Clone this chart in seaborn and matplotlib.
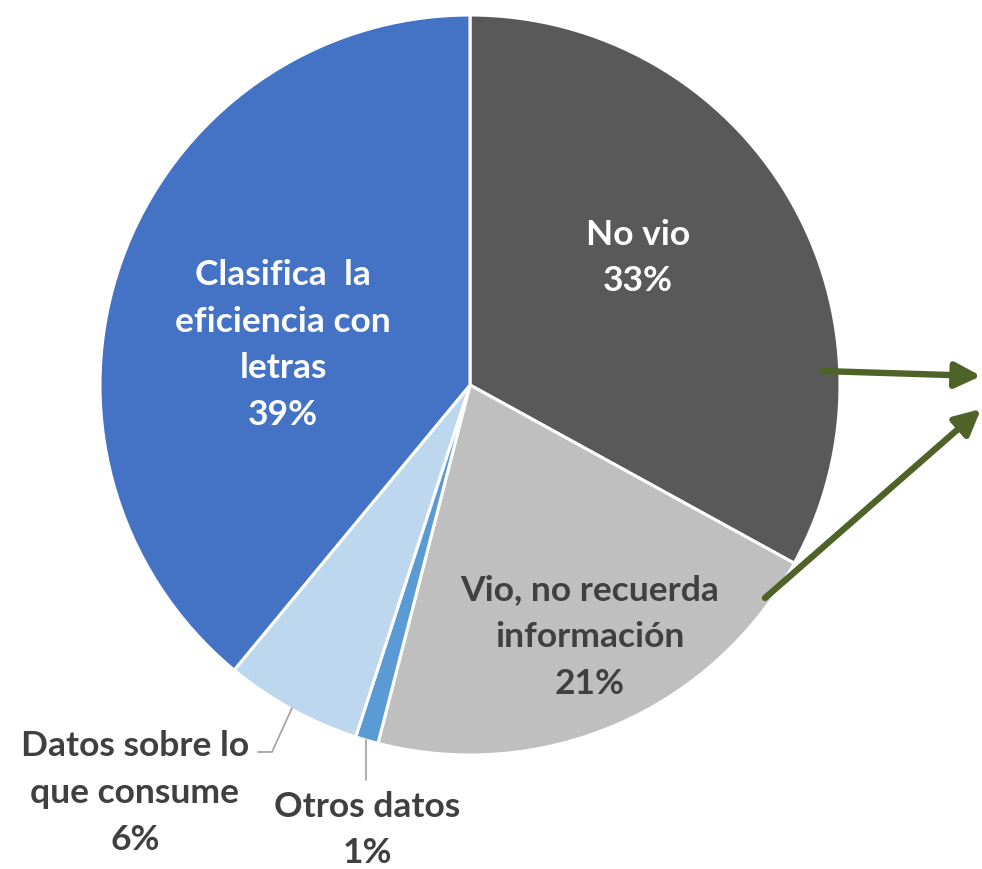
import matplotlib
matplotlib.use("Agg")
import matplotlib.pyplot as plt
import seaborn as sns
import numpy as np

sns.set_theme(style="white")
plt.rcParams['font.family'] = ['Lato', 'DejaVu Sans']

categories = ["No vio", "Vio, no recuerda\ninformación", "Otros datos",
              "Datos sobre lo\nque consume", "Clasifica  la\neficiencia con\nletras"]
values = [33, 21, 1, 6, 39]
colors = ["#595959", "#BFBFBF", "#5B9BD5", "#BDD7EE", "#4472C4"]

W, H = 982, 869
CX, CY, R = 470, 385, 370

fig = plt.figure(figsize=(W / 100, H / 100), dpi=100)
ax = fig.add_axes([0, 0, 1, 1])

ax.pie(values, colors=colors, startangle=90, counterclock=False, radius=1,
       wedgeprops=dict(edgecolor='white', linewidth=2.2))
ax.set_xlim(-CX / R, (W - CX) / R)
ax.set_ylim((CY - H) / R, CY / R)
ax.set_aspect('equal')
ax.axis('off')

def P(x, y):
    return ((x - CX) / R, (CY - y) / R)

fs = 25.5
label_pos = [(638, 258), (590, 637), (367, 830), (135, 793), (283, 345)]
label_col = ["white", "#404040", "#404040", "#404040", "white"]
for cat, v, (px, py), c in zip(categories, values, label_pos, label_col):
    ax.text(*P(px, py), f"{cat}\n{v}%", ha='center', va='center', color=c,
            fontsize=fs, fontweight='bold', linespacing=1.57)

# leader lines
lc = "#A6A6A6"
ax.plot(*zip(P(292, 708), P(272, 752), P(258, 752)), color=lc, lw=1.3)
ax.plot(*zip(P(366, 740), P(366, 780)), color=lc, lw=1.3)

# arrows
ac = "#4F6228"
for (x0, y0), (x1, y1) in [((822, 371), (981, 376)), ((765, 598), (981, 409))]:
    ax.annotate("", xy=P(x1, y1), xytext=P(x0, y0), annotation_clip=False,
                arrowprops=dict(arrowstyle="-|>,head_length=1.1,head_width=0.55",
                                color=ac, lw=4.6, shrinkA=0, shrinkB=0,
                                mutation_scale=14))

fig.savefig("out.png", dpi=100)
